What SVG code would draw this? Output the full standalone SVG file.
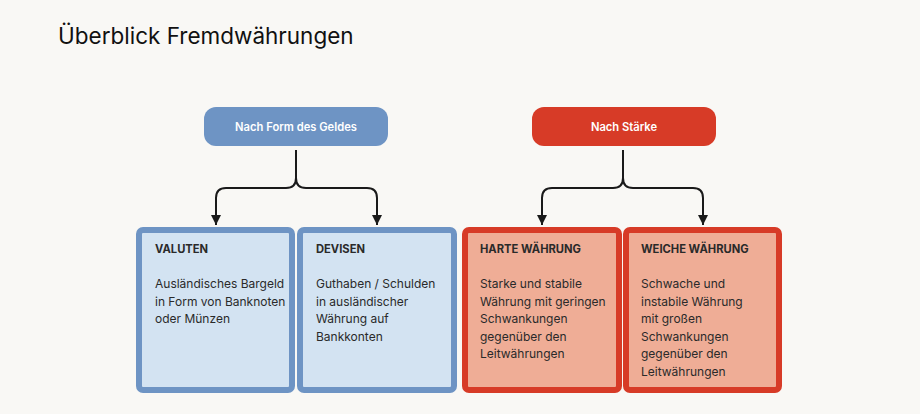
<svg xmlns="http://www.w3.org/2000/svg" width="920" height="414" viewBox="0 0 920 414">
<defs>
<marker id="arr" viewBox="0 0 10 10" refX="10" refY="5" markerWidth="10" markerHeight="10" markerUnits="userSpaceOnUse" orient="auto">
<path d="M0,0 L10,5 L0,10 Z" fill="#1a1a1a"/>
</marker>
<style>
.title{font-family:Inter,"Liberation Sans",sans-serif;font-size:22.5px;fill:#111;}
.cat{font-family:Inter,"Liberation Sans",sans-serif;font-size:11.2px;font-weight:600;fill:#fff;}
.h{font-family:Inter,"Liberation Sans",sans-serif;font-size:11.2px;font-weight:700;fill:#2a2a2a;}
.b{font-family:Inter,"Liberation Sans",sans-serif;font-size:12px;fill:#2a2a2a;}
.blue{fill:#d3e3f2;stroke:#6e94c4;stroke-width:6;}
.red{fill:#efad96;stroke:#d73b27;stroke-width:6;}
.conn{fill:none;stroke:#1a1a1a;stroke-width:2;marker-end:url(#arr);}
</style>
</defs>
<rect width="920" height="414" fill="#f9f8f5"/>
<text class="title" x="58" y="44">Überblick Fremdwährungen</text>

<g id="node-form">
<rect x="204" y="107" width="184" height="39" rx="12" fill="#6e94c4"/>
<text class="cat" x="296" y="131" text-anchor="middle">Nach Form des Geldes</text>
</g>
<g id="node-staerke">
<rect x="532" y="107" width="184" height="39" rx="12" fill="#d73b27"/>
<text class="cat" x="624" y="131" text-anchor="middle">Nach Stärke</text>
</g>

<g id="connectors">
<path class="conn" d="M296,150 V178 Q296,188 286,188 H226 Q216,188 216,198 V225"/>
<path class="conn" d="M296,150 V178 Q296,188 306,188 H367 Q377,188 377,198 V225"/>
<path class="conn" d="M623,150 V178 Q623,188 613,188 H552 Q542,188 542,198 V225"/>
<path class="conn" d="M623,150 V178 Q623,188 633,188 H693 Q703,188 703,198 V225"/>
</g>

<g id="node-valuten">
<rect class="blue" x="139" y="230" width="153" height="160" rx="4"/>
<text class="h" x="155" y="253">VALUTEN</text>
<text class="b" x="155" y="288">Ausländisches Bargeld</text>
<text class="b" x="155" y="305.5">in Form von Banknoten</text>
<text class="b" x="155" y="323">oder Münzen</text>
</g>
<g id="node-devisen">
<rect class="blue" x="300" y="230" width="154" height="160" rx="4"/>
<text class="h" x="316" y="253">DEVISEN</text>
<text class="b" x="316" y="288">Guthaben / Schulden</text>
<text class="b" x="316" y="305.5">in ausländischer</text>
<text class="b" x="316" y="323">Währung auf</text>
<text class="b" x="316" y="340.5">Bankkonten</text>
</g>
<g id="node-hart">
<rect class="red" x="465" y="230" width="154" height="160" rx="4"/>
<text class="h" x="480" y="253">HARTE WÄHRUNG</text>
<text class="b" x="480" y="288">Starke und stabile</text>
<text class="b" x="480" y="305.5">Währung mit geringen</text>
<text class="b" x="480" y="323">Schwankungen</text>
<text class="b" x="480" y="340.5">gegenüber den</text>
<text class="b" x="480" y="358">Leitwährungen</text>
</g>
<g id="node-weich">
<rect class="red" x="626" y="230" width="153" height="160" rx="4"/>
<text class="h" x="641" y="253">WEICHE WÄHRUNG</text>
<text class="b" x="641" y="288">Schwache und</text>
<text class="b" x="641" y="305.5">instabile Währung</text>
<text class="b" x="641" y="323">mit großen</text>
<text class="b" x="641" y="340.5">Schwankungen</text>
<text class="b" x="641" y="358">gegenüber den</text>
<text class="b" x="641" y="375.5">Leitwährungen</text>
</g>
</svg>
